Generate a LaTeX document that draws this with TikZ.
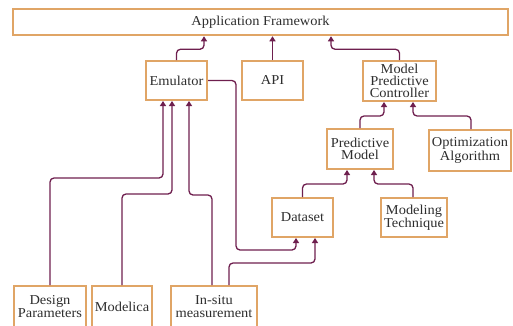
\documentclass[tikz,border=0pt]{standalone}
\usepackage{fontspec}
\setmainfont{Liberation Serif}[FakeStretch=1.06]
\usetikzlibrary{arrows.meta}
\definecolor{boxline}{HTML}{E0A566}
\definecolor{wire}{HTML}{6E1F4E}
\definecolor{txt}{HTML}{2E2E2E}
\tikzset{
  box/.style={draw=boxline, line width=2pt, fill=white, inner sep=0pt,
    align=center, text=txt, font=\fontsize{13.6}{12.2}\selectfont},
  arr/.style={draw=wire, line width=1.3pt, rounded corners=4pt,
    -{Triangle[length=5pt,width=6pt]}},
}
\begin{document}
\begin{tikzpicture}[x=1pt,y=-1pt]
\useasboundingbox (0,0) rectangle (513,325);
\begin{scope}
\clip (0,0) rectangle (513,325);
% boxes
\node[box, minimum width=495pt, minimum height=26.5pt] (app) at (260.5,22) {Application Framework};
\node[box, minimum width=61pt, minimum height=39pt] (emu) at (176.5,80.5) {Emulator};
\node[box, minimum width=61pt, minimum height=39pt] (api) at (272.5,80.5) {API};
\node[box, minimum width=73pt, minimum height=40pt] (mpc) at (399.5,81) {Model\\Predictive\\Controller};
\node[box, minimum width=66pt, minimum height=40pt] (pm) at (360,149) {Predictive\\Model};
\node[box, minimum width=82pt, minimum height=41pt] (oa) at (470,150.5) {Optimization\\Algorithm};
\node[box, minimum width=61pt, minimum height=39pt] (ds) at (302.5,217.5) {Dataset};
\node[box, minimum width=66pt, minimum height=39pt] (mt) at (414,217.5) {Modeling\\Technique};
\node[box, minimum width=72pt, minimum height=41pt] (dp) at (50,306.5) {Design\\Parameters};
\node[box, minimum width=60pt, minimum height=41pt] (mod) at (122,306.5) {Modelica};
\node[box, minimum width=86pt, minimum height=41pt] (ins) at (214,306.5) {In-situ\\measurement};
% connectors into the framework
\draw[arr] (emu.north) |- ([xshift=-56.5pt,yshift=-13pt]app.south) -- ([xshift=-56.5pt]app.south);
\draw[arr] (api.north) -- (api.north |- app.south);
\draw[arr] (mpc.north) |- ([xshift=70.5pt,yshift=-13pt]app.south) -- ([xshift=70.5pt]app.south);
% controller inputs
\draw[arr] (pm.north) |- ([xshift=-15.5pt,yshift=-14pt]mpc.south) -- ([xshift=-15.5pt]mpc.south);
\draw[arr] ([xshift=1pt]oa.north) |- ([xshift=13.5pt,yshift=-14pt]mpc.south) -- ([xshift=13.5pt]mpc.south);
% predictive model inputs
\draw[arr] (ds.north) |- ([xshift=-13pt,yshift=-14pt]pm.south) -- ([xshift=-13pt]pm.south);
\draw[arr] ([xshift=-1pt]mt.north) |- ([xshift=14pt,yshift=-14pt]pm.south) -- ([xshift=14pt]pm.south);
% dataset inputs
\draw[arr] (emu.east) -| ([xshift=-66.5pt,yshift=-12pt]ds.south) -| ([xshift=-6.5pt]ds.south);
\draw[arr] ([xshift=15pt]ins.north) |- ([xshift=12.5pt,yshift=-25pt]ds.south) -- ([xshift=12.5pt]ds.south);
% emulator inputs
\draw[arr] (dp.north) |- ([xshift=-13.5pt,yshift=-77pt]emu.south) -- ([xshift=-13.5pt]emu.south);
\draw[arr] (mod.north) |- ([xshift=-4.5pt,yshift=-93pt]emu.south) -- ([xshift=-4.5pt]emu.south);
\draw[arr] ([xshift=-2pt]ins.north) |- ([xshift=12.5pt,yshift=-94pt]emu.south) -- ([xshift=12.5pt]emu.south);
\end{scope}
\end{tikzpicture}
\end{document}
